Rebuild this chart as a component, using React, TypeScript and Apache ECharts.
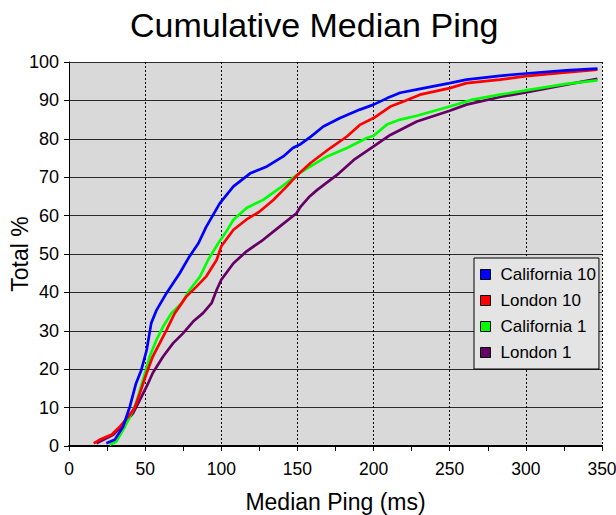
import React, { useEffect, useRef } from "react";
import * as echarts from "echarts";

const seriesNames = ["California 10", "London 10", "California 1", "London 1"];
const seriesColors = ["#0000ff", "#ff0000", "#00ff00", "#660066"];

const california10: [number, number][] = [
  [24.5, 0.7], [30, 1.6], [35.5, 5], [40, 10.3], [44, 16.3], [47.5, 19.8], [51, 25],
  [54, 32], [57.5, 35.4], [64, 39.8], [72.7, 45], [79, 49.3], [85, 52.8], [90, 57],
  [99, 63.2], [108, 67.6], [119, 71], [130, 72.8], [140.7, 75.4], [147, 77.6], [152, 78.6],
  [158.6, 80.5], [167, 83.2], [178, 85.4], [191, 87.6], [200, 88.9], [209, 90.6],
  [217.5, 92], [230.5, 93], [250, 94.5], [261, 95.4], [283, 96.4], [300, 97],
  [326.5, 97.8], [347, 98.3],
];

const london10: [number, number][] = [
  [16.2, 0.7], [20, 1.6], [27.8, 2.9], [33.3, 5], [38.8, 7.6], [43, 9.8], [46.5, 13.7],
  [51, 19], [55, 23.3], [59.6, 26.8], [64, 30.2], [69.5, 34.6], [77, 38.9], [83.7, 41.5],
  [90, 44.1], [97, 48.5], [100, 52], [108, 56.3], [116.6, 59], [125, 61], [134, 64],
  [143, 67.6], [150, 70.6], [158.6, 73.7], [171.6, 77.6], [182.5, 80.6], [191.3, 83.7],
  [200, 85.4], [211, 88.4], [219.6, 89.7], [230.5, 91.5], [250, 93.2], [261, 94.5],
  [283, 95.4], [300, 96.3], [326.5, 97.3], [347, 98],
];

const california1: [number, number][] = [
  [26.7, 0.3], [31, 1.1], [35.5, 4.2], [40, 7.6], [44, 11.1], [48.6, 17.2], [53, 23.3],
  [57.4, 27.6], [61.8, 31.1], [67.3, 34.6], [74, 37.2], [79.3, 40.7], [86, 44.1],
  [91.4, 48.5], [98, 52.8], [103.4, 55.9], [108, 58.9], [116.6, 62], [127.5, 64.1],
  [138.5, 67.2], [147, 69.8], [152, 71.2], [158.6, 72.8], [169.5, 75.4], [182.5, 77.6],
  [195.6, 80.2], [200, 80.8], [208.7, 83.7], [217.5, 85], [228.4, 86], [250, 88.4],
  [265, 90.2], [283, 91.5], [300, 92.6], [326.5, 94.3], [347, 95.2],
];

const london1: [number, number][] = [
  [18, 0.7], [24.5, 2], [29, 2.9], [35.5, 5.5], [42, 8.5], [45.4, 11.1], [51, 15.5],
  [55, 19], [61.8, 23.3], [68.4, 26.8], [75, 29.4], [81.5, 32.4], [88, 34.6], [93.6, 37.2],
  [97, 40.7], [100, 43.3], [108, 47.6], [116.6, 50.7], [127.5, 53.7], [138.5, 57.2],
  [149.4, 60.6], [152, 62.3], [158, 65], [163, 66.7], [176, 70.6], [187, 74.5], [200, 78],
  [211, 81], [228.4, 84.5], [250, 87.3], [261, 88.9], [283, 90.9], [300, 92.1],
  [326.5, 94.1], [347, 95.6],
];

const seriesData = [california10, london10, california1, london1];

const FONT = "Liberation Sans, Arial, Helvetica, sans-serif";

export default function App() {
  const ref = useRef<HTMLDivElement>(null);

  useEffect(() => {
    if (!ref.current) return;
    const chart = echarts.init(ref.current, undefined, { renderer: "svg" });
    chart.setOption({
      animation: false,
      textStyle: { fontFamily: FONT },
      title: {
        text: "Cumulative Median Ping",
        left: 125,
        top: 3,
        textStyle: { fontSize: 34, fontWeight: "normal", color: "#000", fontFamily: FONT },
      },
      legend: {
        orient: "vertical",
        left: 474,
        top: 258,
        data: seriesNames,
        icon: "rect",
        itemWidth: 10,
        itemHeight: 10,
        itemGap: 9,
        padding: [8, 3, 8, 6],
        backgroundColor: "#e4e4e4",
        borderColor: "#000",
        borderWidth: 1,
        itemStyle: { borderColor: "#000", borderWidth: 1 },
        textStyle: { fontSize: 17, color: "#000", fontFamily: FONT, padding: [0, 0, 0, 5] },
      },
      grid: {
        left: 69,
        right: 14,
        top: 62,
        bottom: 69,
        show: true,
        backgroundColor: "#d9d9d9",
        borderWidth: 0,
        containLabel: false,
        outerBoundsMode: "none",
      },
      xAxis: {
        type: "value",
        min: 0,
        max: 350,
        interval: 50,
        name: "Median Ping (ms)",
        nameLocation: "middle",
        nameGap: 44,
        nameMoveOverlap: false,
        nameTextStyle: { fontSize: 23, color: "#000", fontFamily: FONT },
        axisLine: { show: true, lineStyle: { color: "#000", width: 2 } },
        axisTick: { show: true, length: 5, lineStyle: { color: "#000" } },
        minorTick: { show: true, splitNumber: 2, length: 5, lineStyle: { color: "#000" } },
        axisLabel: { fontSize: 17.5, color: "#000", margin: 14, fontFamily: FONT },
        splitLine: { show: true, lineStyle: { color: "#000", width: 1, type: [2, 2] } },
      },
      yAxis: {
        type: "value",
        min: 0,
        max: 100,
        interval: 10,
        name: "Total %",
        nameLocation: "middle",
        nameGap: 38,
        nameMoveOverlap: false,
        nameTextStyle: { fontSize: 23, color: "#000", fontFamily: FONT },
        axisLine: { show: true, lineStyle: { color: "#000", width: 1 } },
        axisTick: { show: true, length: 5, lineStyle: { color: "#000" } },
        axisLabel: { fontSize: 18, color: "#000", margin: 10, fontFamily: FONT },
        splitLine: { show: true, lineStyle: { color: "#2a2a2a", width: 1 } },
      },
      series: seriesNames.map((name, i) => ({
        name,
        type: "line",
        data: seriesData[i],
        symbol: "none",
        showSymbol: false,
        smooth: false,
        color: seriesColors[i],
        lineStyle: { color: seriesColors[i], width: 2.7 },
        z: 10 - i,
      })),
    });
    return () => chart.dispose();
  }, []);

  return (
    <div
      ref={ref}
      style={{ position: "absolute", left: 0, top: 0, width: 616, height: 515 }}
    />
  );
}
